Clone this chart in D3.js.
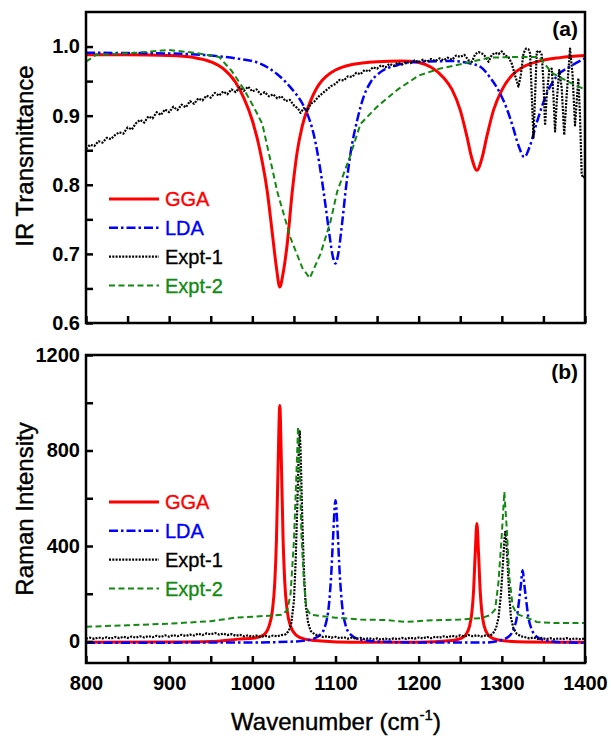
<!DOCTYPE html>
<html>
<head>
<meta charset="utf-8">
<script src="https://cdn.jsdelivr.net/npm/d3@7"></script>
<style>
  body { margin: 0; background: #fff; }
  svg { display: block; font-family: "Liberation Sans", Arial, sans-serif; }
</style>
</head>
<body>
<div id="chart"></div>
<script>
// ---- panel (a): IR transmittance, [wavenumber, T] ----
const irGGA = [[800,.988],[850,.988],[900,.987],[930,.984],[950,.978],[965,.968],[980,.948],[990,.925],
  [1000,.893],[1010,.845],[1018,.790],[1024,.730],[1029,.680],[1033,.652],[1037,.672],[1042,.715],
  [1048,.790],[1054,.848],[1060,.885],[1068,.915],[1080,.945],[1090,.958],[1100,.966],[1120,.974],
  [1150,.978],[1180,.979],[1200,.977],[1215,.970],[1230,.955],[1240,.938],[1250,.908],[1258,.870],
  [1264,.838],[1270,.821],[1276,.838],[1282,.870],[1290,.908],[1300,.937],[1312,.958],[1325,.970],
  [1345,.979],[1370,.984],[1400,.987]];

const irLDA = [[800,.991],[900,.990],[950,.987],[980,.983],[1010,.975],[1030,.960],[1050,.935],[1060,.918],
  [1066,.903],[1074,.872],[1082,.820],[1088,.770],[1093,.725],[1097,.695],[1100,.686],[1103,.698],
  [1108,.745],[1113,.800],[1118,.845],[1126,.893],[1134,.928],[1142,.948],[1154,.963],[1174,.973],
  [1200,.978],[1240,.979],[1260,.976],[1275,.970],[1286,.955],[1298,.932],[1306,.910],[1313,.885],
  [1320,.857],[1327,.840],[1334,.857],[1342,.890],[1354,.932],[1366,.957],[1382,.971],[1400,.983]];

const irExpt1 = [[800,.852],[805,.858],[810,.856],[815,.863],[820,.861],[825,.868],[830,.866],[835,.872],
  [840,.876],[845,.874],[850,.883],[855,.880],[860,.889],[865,.894],[870,.890],[875,.899],[880,.896],
  [885,.905],[890,.901],[895,.909],[900,.905],[905,.913],[910,.908],[915,.916],[920,.912],[925,.921],
  [930,.917],[935,.925],[940,.922],[945,.929],[950,.926],[955,.933],[960,.929],[965,.935],[970,.931],
  [975,.938],[980,.934],[985,.941],[990,.936],[995,.942],[1000,.935],[1005,.938],[1010,.931],[1015,.934],
  [1020,.928],[1025,.931],[1030,.925],[1035,.928],[1040,.921],[1045,.923],[1050,.915],[1055,.910],
  [1058,.904],[1062,.911],[1066,.907],[1070,.917],[1075,.921],[1080,.928],[1085,.933],[1090,.938],
  [1095,.943],[1100,.946],[1105,.952],[1110,.951],[1115,.957],[1120,.956],[1125,.962],[1130,.960],
  [1135,.966],[1140,.964],[1145,.970],[1150,.968],[1155,.973],[1160,.970],[1165,.975],[1170,.972],
  [1175,.977],[1180,.974],[1185,.978],[1190,.976],[1195,.980],[1200,.977],[1205,.981],[1210,.978],
  [1215,.982],[1220,.979],[1225,.983],[1230,.980],[1235,.984],[1240,.981],[1245,.987],[1250,.985],
  [1255,.988],[1260,.980],[1264,.978],[1268,.989],[1272,.992],[1276,.990],[1280,.986],[1284,.978],
  [1288,.988],[1292,.991],[1296,.989],[1300,.993],[1304,.987],[1308,.985],[1312,.975],[1316,.958],
  [1320,.942],[1323,.960],[1326,.990],[1329,.997],[1332,.996],[1334,.990],[1336,.930],[1338,.868],
  [1340,.930],[1342,.992],[1345,.994],[1348,.988],[1350,.950],[1352,.886],[1354,.930],[1357,.965],
  [1360,.968],[1362,.930],[1364,.877],[1366,.920],[1369,.966],[1372,.940],[1375,.872],[1378,.930],
  [1382,.997],[1385,.960],[1388,.886],[1390,.920],[1392,.954],[1394,.900],[1396,.815],[1398,.810],
  [1400,.812]];

const irExpt2 = [[800,.978],[812,.988],[860,.991],[900,.995],[930,.991],[960,.985],[975,.965],[990,.938],
  [1005,.905],[1012,.888],[1020,.845],[1030,.790],[1046,.723],[1060,.680],[1069,.665],[1082,.700],
  [1094,.747],[1102,.790],[1118,.843],[1130,.888],[1150,.913],[1175,.938],[1200,.958],[1225,.968],
  [1260,.977],[1285,.984],[1320,.985],[1345,.985],[1360,.962],[1380,.949],[1400,.938]];

// ---- panel (b): Raman intensity ----
const ramGGA = [[800,-3],[900,-2],[950,0],[983,10],[1003,15],[1013,26],[1020,64],[1024,127],[1027,248],
  [1029,426],[1031,740],[1033,988],[1035,740],[1037,426],[1039,248],[1042,127],[1046,64],[1053,26],
  [1063,10],[1083,2],[1120,-3],[1200,-3],[1240,4],[1250,12],[1257,30],[1261,62],[1264,122],[1266,211],
  [1268,369],[1270,494],[1272,369],[1274,211],[1276,122],[1279,62],[1283,30],[1290,12],[1300,4],
  [1330,-2],[1400,-3]];

const ramLDA = [[800,-5],[1000,-4],[1050,0],[1070,8],[1082,30],[1088,70],[1092,150],[1095,290],[1097,430],
  [1100,592],[1103,430],[1105,290],[1108,150],[1112,70],[1118,30],[1130,8],[1150,0],[1200,-4],[1280,-4],
  [1298,5],[1308,20],[1314,50],[1318,100],[1321,180],[1323,240],[1325,298],[1327,240],[1329,180],
  [1332,100],[1336,50],[1342,20],[1352,5],[1370,-3],[1400,-5]];

const ramExpt1 = [[800,12],[805,16],[810,11],[815,17],[820,13],[825,18],[830,12],[835,19],[840,14],[845,20],
  [850,15],[855,21],[860,16],[865,22],[870,17],[875,23],[880,18],[885,24],[890,19],[895,26],[900,20],
  [905,27],[910,22],[915,28],[920,23],[925,29],[930,25],[935,33],[940,27],[945,34],[950,30],[955,36],
  [960,29],[965,33],[970,27],[975,31],[980,24],[985,28],[990,22],[995,26],[1000,20],[1005,25],[1010,19],
  [1015,24],[1020,20],[1025,25],[1030,22],[1035,27],[1040,30],[1044,45],[1047,80],[1050,170],[1052,330],
  [1054,560],[1056,820],[1057,880],[1058,800],[1060,520],[1062,300],[1064,160],[1067,80],[1070,45],
  [1075,30],[1080,24],[1085,19],[1090,22],[1095,16],[1100,20],[1105,14],[1110,18],[1115,12],[1120,17],
  [1125,11],[1130,15],[1135,10],[1140,14],[1145,9],[1150,13],[1155,8],[1160,12],[1165,9],[1170,13],
  [1175,10],[1180,15],[1185,11],[1190,16],[1195,12],[1200,17],[1205,13],[1210,19],[1215,14],[1220,20],
  [1225,16],[1230,22],[1235,18],[1240,24],[1245,20],[1250,26],[1255,21],[1260,27],[1265,22],[1270,26],
  [1275,21],[1280,25],[1285,24],[1289,32],[1293,55],[1296,100],[1299,200],[1301,310],[1303,420],
  [1304,459],[1305,440],[1307,320],[1309,190],[1311,100],[1314,55],[1318,32],[1323,22],[1328,18],
  [1333,13],[1338,17],[1343,11],[1348,15],[1353,10],[1358,14],[1363,9],[1368,13],[1373,10],[1378,14],
  [1383,9],[1388,13],[1393,10],[1400,12]];

const ramExpt2 = [[800,62],[850,68],[900,75],[950,85],[980,100],[1000,104],[1020,108],[1035,112],[1042,130],
  [1046,200],[1050,420],[1053,700],[1055,900],[1057,700],[1059,450],[1062,250],[1065,140],[1070,112],
  [1080,108],[1100,100],[1130,92],[1160,90],[1185,82],[1210,88],[1250,92],[1275,98],[1286,110],
  [1292,135],[1296,250],[1300,450],[1303,627],[1306,470],[1309,270],[1313,150],[1318,115],[1330,100],
  [1342,82],[1360,78],[1400,78]];

const seriesNames = ["GGA", "LDA", "Expt-1", "Expt-2"];
const xTicks = [800, 850, 900, 950, 1000, 1050, 1100, 1150, 1200, 1250, 1300, 1350, 1400];
const irTicks = [0.6, 0.65, 0.7, 0.75, 0.8, 0.85, 0.9, 0.95, 1.0];
const ramTicks = [0, 200, 400, 600, 800, 1000, 1200];

const styles = {
  "GGA":    {color: "#ff0000", width: 3,   dash: null,        curve: d3.curveMonotoneX},
  "LDA":    {color: "#0000ff", width: 2.5, dash: "9,3,2.5,3", curve: d3.curveMonotoneX},
  "Expt-1": {color: "#000000", width: 2.2, dash: "2,1.3",     curve: d3.curveLinear},
  "Expt-2": {color: "#128a12", width: 2,   dash: "6,3.5",     curve: d3.curveLinear}
};

const svg = d3.select("#chart").append("svg").attr("width", 611).attr("height", 738);

const left = 86, right = 585;
const x = d3.scaleLinear().domain([800, 1400]).range([left, right]);

const panels = [
  {id: "a", top: 12, bottom: 323, domain: [0.6, 1.05], ticks: irTicks, label: "(a)",
   title: "IR Transmittance", titleY: 156, legendY: 199,
   data: [irGGA, irLDA, irExpt1, irExpt2],
   labelFn: d => (Math.abs(d * 10 - Math.round(d * 10)) < 1e-6) ? d.toFixed(1) : "", xLabels: false},
  {id: "b", top: 355, bottom: 663, domain: [-90, 1200], ticks: ramTicks, label: "(b)",
   title: "Raman Intensity", titleY: 509, legendY: 502,
   data: [ramGGA, ramLDA, ramExpt1, ramExpt2],
   labelFn: d => (d % 400 === 0) ? d : "", xLabels: true}
];

panels.forEach(p => {
  const y = d3.scaleLinear().domain(p.domain).range([p.bottom, p.top]);
  const g = svg.append("g");

  g.append("clipPath").attr("id", "clip-" + p.id)
    .append("rect").attr("x", left).attr("y", p.top)
    .attr("width", right - left).attr("height", p.bottom - p.top);

  // curves
  const plot = g.append("g").attr("clip-path", "url(#clip-" + p.id + ")");
  p.data.forEach((ser, i) => {
    const st = styles[seriesNames[i]];
    const line = d3.line().x(d => x(d[0])).y(d => y(d[1])).curve(st.curve);
    plot.append("path").datum(ser)
      .attr("d", line)
      .attr("fill", "none")
      .attr("stroke", st.color)
      .attr("stroke-width", st.width)
      .attr("stroke-dasharray", st.dash)
      .attr("stroke-linejoin", "round");
  });

  // axes, ticks pointing inward
  const xAxis = g.append("g").attr("transform", `translate(0,${p.bottom})`)
    .call(d3.axisBottom(x).tickValues(xTicks).tickSize(-7).tickPadding(13)
      .tickFormat(d => (p.xLabels && d % 100 === 0) ? d : ""));
  const yAxis = g.append("g").attr("transform", `translate(${left},0)`)
    .call(d3.axisLeft(y).tickValues(p.ticks).tickSize(-7).tickPadding(6).tickFormat(p.labelFn));

  [xAxis, yAxis].forEach(ax => {
    ax.select(".domain").remove();
    ax.selectAll(".tick line").attr("stroke", "#000").attr("stroke-width", 2.5);
    ax.selectAll(".tick text")
      .attr("fill", "#000")
      .style("font-family", "'Liberation Sans', Arial, sans-serif")
      .style("font-size", "20px")
      .style("font-weight", "bold");
  });

  // frame
  g.append("rect").attr("x", left).attr("y", p.top)
    .attr("width", right - left).attr("height", p.bottom - p.top)
    .attr("fill", "none").attr("stroke", "#000").attr("stroke-width", 2.5);

  // panel tag
  g.append("text").attr("x", 578).attr("y", p.top + 24)
    .attr("text-anchor", "end")
    .style("font-size", "21px").style("font-weight", "bold")
    .text(p.label);

  // y title (slight stroke to match the heavier look of the original)
  g.append("text")
    .attr("transform", `translate(33,${p.titleY}) rotate(-90)`)
    .attr("text-anchor", "middle")
    .attr("stroke", "#000").attr("stroke-width", 0.4)
    .style("font-size", "24px")
    .text(p.title);

  // legend
  seriesNames.forEach((name, i) => {
    const st = styles[name];
    const ly = p.legendY + i * 28.8;
    g.append("line").attr("x1", 109).attr("x2", 159).attr("y1", ly).attr("y2", ly)
      .attr("stroke", st.color).attr("stroke-width", st.width)
      .attr("stroke-dasharray", st.dash);
    g.append("text").attr("x", 165).attr("y", ly).attr("dy", "0.36em")
      .attr("fill", st.color)
      .attr("stroke", st.color).attr("stroke-width", 0.35)
      .style("font-size", "20px")
      .text(name);
  });
});

// x title with superscript
const xt = svg.append("text").attr("x", 336).attr("y", 730)
  .attr("text-anchor", "middle").attr("stroke", "#000").attr("stroke-width", 0.4)
  .style("font-size", "24px");
xt.append("tspan").text("Wavenumber (cm");
xt.append("tspan").attr("dy", -10).style("font-size", "15px").text("-1");
xt.append("tspan").attr("dy", 10).text(")");
</script>
</body>
</html>
